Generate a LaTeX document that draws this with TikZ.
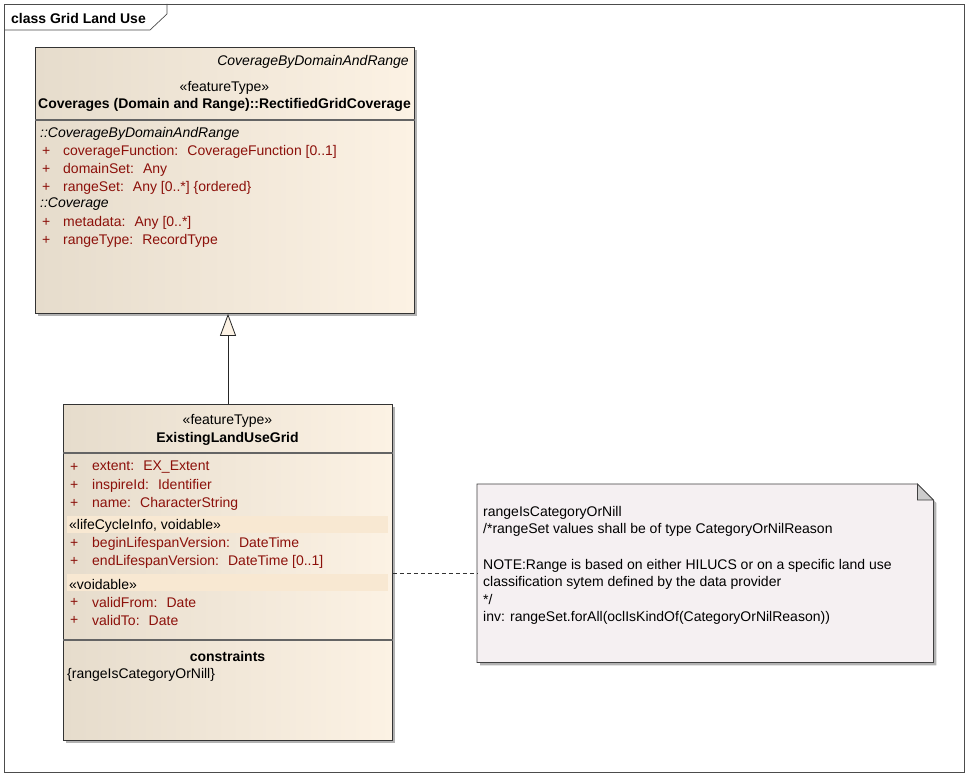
\documentclass[tikz,border=0pt]{standalone}
\usepackage{fontspec}
\setmainfont{Liberation Sans}
\usetikzlibrary{shadows,arrows.meta}
\definecolor{attr}{RGB}{140,16,10}
\definecolor{clsL}{RGB}{230,220,204}
\definecolor{clsR}{RGB}{252,242,228}
\definecolor{band}{RGB}{248,232,210}
\definecolor{notefill}{RGB}{245,240,242}
\definecolor{sepc}{RGB}{100,100,100}
\tikzset{
  classbox/.style={draw=black!80, line width=0.8pt, shading=axis, left color=clsL, right color=clsR, shading angle=90,
    drop shadow={shadow xshift=3pt, shadow yshift=-3pt, fill=black!30, opacity=1}},
  txt/.style={inner sep=0pt, yshift=-1.5pt, font=\fontsize{14}{16}\selectfont},
  att/.style={txt, anchor=west, text=attr},
  sect/.style={txt, anchor=west, font=\fontsize{14}{16}\selectfont\itshape},
  bld/.style={txt, font=\fontsize{14}{16}\selectfont\bfseries},
  sep/.style={draw=sepc, line width=1.3pt},
  bandbox/.style={fill=band, draw=none}
}
\begin{document}
\begin{tikzpicture}[x=1pt,y=-1pt]
\useasboundingbox (0,0) rectangle (971,778);
\fill[white] (0,0) rectangle (971,778);
% frame
\draw[black!70, line width=0.7pt] (4,4) rectangle (964,772);
\draw[black!70, line width=0.7pt] (4,30) -- (150,30) -- (167,14) -- (167,4);
\node[bld, anchor=west] (title) at (11,17) {class Grid Land Use};

% upper class
\node[classbox, anchor=north west, minimum width=379, minimum height=266] (cov) at (35,47) {};
\draw[sep] (cov.west |- 0,120) -- (cov.east |- 0,120);
\node[txt, anchor=east, font=\fontsize{14}{16}\selectfont\itshape] (covsup) at (409,60) {CoverageByDomainAndRange};
\node[txt] (covst) at (224.5,86) {«featureType»};
\node[bld] (covname) at (224.5,103) {Coverages (Domain and Range)::RectifiedGridCoverage};
\node[sect] (cs1) at (40,132) {::CoverageByDomainAndRange};
\node[att] (cp1) at (42,150) {+}; \node[att] (ca1) at (63,150) {coverageFunction:~ CoverageFunction [0..1]};
\node[att] (cp2) at (42,168) {+}; \node[att] (ca2) at (63,168) {domainSet:~ Any};
\node[att] (cp3) at (42,186) {+}; \node[att] (ca3) at (63,186) {rangeSet:~ Any [0..*] \{ordered\}};
\node[sect] (cs2) at (40,203) {::Coverage};
\node[att] (cp4) at (42,221) {+}; \node[att] (ca4) at (63,221) {metadata:~ Any [0..*]};
\node[att] (cp5) at (42,239) {+}; \node[att] (ca5) at (63,239) {rangeType:~ RecordType};

% lower class
\node[classbox, anchor=north west, minimum width=329, minimum height=336] (ex) at (63,404) {};
\draw[sep] (ex.west |- 0,453) -- (ex.east |- 0,453);
\draw[sep] (ex.west |- 0,640) -- (ex.east |- 0,640);
\node[txt] (exst) at (227.5,419) {«featureType»};
\node[bld] (exname) at (227.5,437) {ExistingLandUseGrid};
\node[att] (ep1) at (70,466) {+}; \node[att] (ea1) at (92,466) {extent:~ EX\_Extent};
\node[att] (ep2) at (70,484) {+}; \node[att] (ea2) at (92,484) {inspireId:~ Identifier};
\node[att] (ep3) at (70,502) {+}; \node[att] (ea3) at (92,502) {name:~ CharacterString};
\fill[bandbox] (67,516) rectangle (388,533);
\node[txt, anchor=west] (eb1) at (69,524.5) {«lifeCycleInfo, voidable»};
\node[att] (ep4) at (70,542) {+}; \node[att] (ea4) at (92,542) {beginLifespanVersion:~ DateTime};
\node[att] (ep5) at (70,560) {+}; \node[att] (ea5) at (92,560) {endLifespanVersion:~ DateTime [0..1]};
\fill[bandbox] (67,574) rectangle (388,591);
\node[txt, anchor=west] (eb2) at (69,582.5) {«voidable»};
\node[att] (ep6) at (70,601) {+}; \node[att] (ea6) at (92,601) {validFrom:~ Date};
\node[att] (ep7) at (70,619) {+}; \node[att] (ea7) at (92,619) {validTo:~ Date};
\node[bld] (exc) at (227.5,655) {constraints};
\node[txt, anchor=west] (exc1) at (67,673) {\{rangeIsCategoryOrNill\}};

% generalization
\draw[black!85, line width=0.8pt, -{Triangle[length=22pt, width=16pt, fill=clsR]}] (ex.north -| 228,0) -- (cov.south -| 228,0);

% note
\node[anchor=north west, minimum width=456, minimum height=178, inner sep=0pt] (note) at (477,484) {};
\fill[black!30] ([xshift=3pt,yshift=-3pt]note.north west) -- ([xshift=-13pt,yshift=-3pt]note.north east) -- ([xshift=3pt,yshift=-19pt]note.north east) -- ([xshift=3pt,yshift=-3pt]note.south east) -- ([xshift=3pt,yshift=-3pt]note.south west) -- cycle;
\draw[black!75, line width=0.8pt, fill=notefill] (note.north west) -- ([xshift=-16pt]note.north east) -- ([yshift=-16pt]note.north east) -- (note.south east) -- (note.south west) -- cycle;
\draw[black!75, line width=0.8pt, fill=black!20] ([xshift=-16pt]note.north east) -- ([xshift=-16pt,yshift=-16pt]note.north east) -- ([yshift=-16pt]note.north east) -- cycle;
\node[txt, anchor=west] (n1) at (483,511) {rangeIsCategoryOrNill};
\node[txt, anchor=west] (n2) at (483,528) {/*rangeSet values shall be of type CategoryOrNilReason};
\node[txt, anchor=west] (n3) at (483,564) {NOTE:Range is based on either HILUCS or on a specific land use};
\node[txt, anchor=west] (n4) at (483,581) {classification sytem defined by the data provider};
\node[txt, anchor=west] (n5) at (483,598) {*/};
\node[txt, anchor=west] (n6) at (483,616) {inv: rangeSet.forAll(oclIsKindOf(CategoryOrNilReason))};

% note link
\draw[black!80, line width=0.8pt, dash pattern=on 4pt off 3pt] (ex.east |- note.west) -- (note.west);
\end{tikzpicture}
\end{document}
